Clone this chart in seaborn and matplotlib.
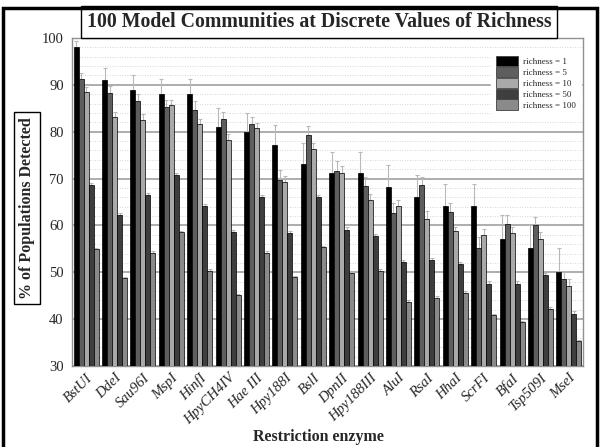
import matplotlib
matplotlib.use("Agg")
import matplotlib.pyplot as plt
import matplotlib.patches as mpatches
from matplotlib.ticker import MultipleLocator
import numpy as np
import pandas as pd
import seaborn as sns

enzymes = ["BstUI", "DdeI", "Sau96I", "MspI", "HinfI", "HpyCH4IV", "Hae III",
           "Hpy188I", "BslI", "DpnII", "Hpy188III", "AluI", "RsaI", "HhaI",
           "ScrFI", "BfaI", "Tsp509I", "MseI"]
richness_labels = ["richness = 1", "richness = 5", "richness = 10",
                   "richness = 50", "richness = 100"]

r1 = [98.0, 91.0, 89.0, 88.0, 88.0, 81.0, 80.0, 77.1, 73.1, 71.1, 71.1, 68.2,
      66.1, 64.1, 64.1, 57.1, 55.1, 50.1]
r5 = [91.2, 88.3, 86.6, 85.2, 84.7, 82.8, 81.7, 69.7, 79.3, 71.6, 68.4, 62.7,
      68.6, 62.9, 55.1, 60.3, 60.1, 48.5]
r10 = [88.5, 83.2, 82.5, 85.6, 81.6, 78.2, 80.7, 69.3, 76.4, 71.2, 65.5, 64.2,
       61.3, 58.8, 57.9, 58.3, 57.0, 47.1]
r50 = [68.6, 62.2, 66.6, 70.7, 64.1, 58.6, 66.1, 58.3, 66.1, 59.1, 57.7, 52.2,
       52.6, 51.7, 47.6, 47.6, 49.4, 41.1]
r100 = [54.9, 48.8, 54.2, 58.6, 50.3, 45.1, 54.2, 49.0, 55.4, 49.8, 50.3, 43.7,
        44.6, 45.6, 40.9, 39.3, 42.2, 35.3]

e1 = [1.3, 2.7, 3.0, 3.3, 3.3, 4.0, 3.9, 4.3, 4.5, 4.5, 4.5, 4.8, 4.7, 4.8,
      4.8, 5.1, 5.0, 5.0]
e5 = [1.3, 1.5, 1.5, 1.5, 1.8, 1.5, 1.4, 2.1, 1.9, 2.1, 2.0, 2.0, 1.8, 1.8,
      2.5, 2.0, 1.7, 1.8]
e10 = [1.0, 1.0, 1.2, 1.1, 1.2, 1.3, 1.2, 1.2, 1.1, 1.4, 1.3, 1.2, 1.7, 0.9,
       1.4, 1.4, 1.5, 1.4]
e50 = [0.4, 0.5, 0.4, 0.4, 0.5, 0.5, 0.4, 0.5, 0.4, 0.5, 0.5, 0.5, 0.5, 0.5,
       0.5, 0.5, 0.5, 0.7]
e100 = [0.3, 0.3, 0.3, 0.3, 0.3, 0.3, 0.3, 0.3, 0.3, 0.3, 0.3, 0.3, 0.3, 0.3,
        0.3, 0.3, 0.3, 0.3]

series = [r1, r5, r10, r50, r100]
errors = [e1, e5, e10, e50, e100]
colors = ["#000000", "#5e5e5e", "#a9a9a9", "#3e3e3e", "#8a8a8a"]

df = pd.DataFrame({
    "enzyme": np.tile(enzymes, len(series)),
    "richness": np.repeat(richness_labels, len(enzymes)),
    "pct": np.concatenate(series),
})

sns.set_style("white")
serif = ["Liberation Serif", "DejaVu Serif"]
plt.rcParams["font.family"] = serif

fig = plt.figure(figsize=(6.0, 4.47), dpi=100)
ax = fig.add_axes([72 / 600, 1 - 366 / 447, (583 - 72) / 600, (366 - 38) / 447])

sns.barplot(data=df, x="enzyme", y="pct", hue="richness",
            order=enzymes, hue_order=richness_labels,
            palette=colors, edgecolor="black", linewidth=0.5,
            width=0.88, errorbar=None, ax=ax, zorder=3, legend=False)

# one-sided (upper) error bars on every bar
for cont, err in zip(ax.containers, errors):
    xs = [p.get_x() + p.get_width() / 2 for p in cont.patches]
    hs = [p.get_height() for p in cont.patches]
    ax.errorbar(xs, hs, yerr=[np.zeros(len(err)), err], fmt="none",
                ecolor="#b8b8b8", elinewidth=0.8, capsize=1.5,
                capthick=0.8, zorder=2.5)

ax.set_ylim(30, 100)
ax.set_xlim(-0.5, len(enzymes) - 0.5)
ax.yaxis.set_major_locator(MultipleLocator(10))
ax.yaxis.set_minor_locator(MultipleLocator(2))
ax.grid(which="major", axis="y", color="#a0a0a0", linewidth=1.2, zorder=0)
ax.grid(which="minor", axis="y", color="#c8c8c8", linewidth=0.6,
        linestyle=(0, (1, 2)), zorder=0)
ax.set_axisbelow(True)
for s in ax.spines.values():
    s.set_color("#909090")
    s.set_linewidth(1.0)

ax.tick_params(axis="y", which="major", direction="out", length=4,
               color="#909090", labelsize=10.5, pad=2)
ax.tick_params(axis="y", which="minor", length=0)
ax.tick_params(axis="x", direction="out", length=3, color="#909090", pad=1)
ax.set_xticks(range(len(enzymes)))
ax.set_xticklabels(enzymes, rotation=45, ha="right", rotation_mode="anchor",
                   fontstyle="italic", fontsize=10.5)
ax.set_xlabel("")
ax.set_ylabel("")

handles = [mpatches.Patch(facecolor=c, edgecolor="#404040", linewidth=0.6)
           for c in colors]
leg = ax.legend(handles, richness_labels, loc="upper left",
                bbox_to_anchor=(486 / 600, 1 - 46 / 447),
                bbox_transform=fig.transFigure, frameon=True, fancybox=False,
                framealpha=1, facecolor="white", edgecolor="white",
                prop={"family": serif, "size": 6.5},
                handlelength=2.4, handleheight=1.4, labelspacing=0.05,
                handletextpad=0.55, borderpad=0.6)
leg.set_zorder(5)

fig.text(319 / 600, 1 - 22 / 447,
         "100 Model Communities at Discrete Values of Richness",
         ha="center", va="center", fontsize=14.3, fontweight="bold",
         bbox=dict(boxstyle="square,pad=0.3", facecolor="white",
                   edgecolor="black", linewidth=1.0), zorder=6)

fig.text(27 / 600, 1 - 208 / 447, "% of Populations Detected",
         rotation=90, ha="center", va="center", fontsize=11.5,
         fontweight="bold",
         bbox=dict(boxstyle="square,pad=0.3", facecolor="white",
                   edgecolor="black", linewidth=1.0))

fig.text(318 / 600, 1 - 437 / 447, "Restriction enzyme", ha="center",
         va="center", fontsize=11.5, fontweight="bold")

border = mpatches.Rectangle((3 / 600, -0.05), 594 / 600, 1.05 - 8 / 447,
                            transform=fig.transFigure, fill=False,
                            edgecolor="black", linewidth=2.5, zorder=10)
fig.patches.append(border)

fig.savefig("out.png", dpi=100, facecolor="white")
